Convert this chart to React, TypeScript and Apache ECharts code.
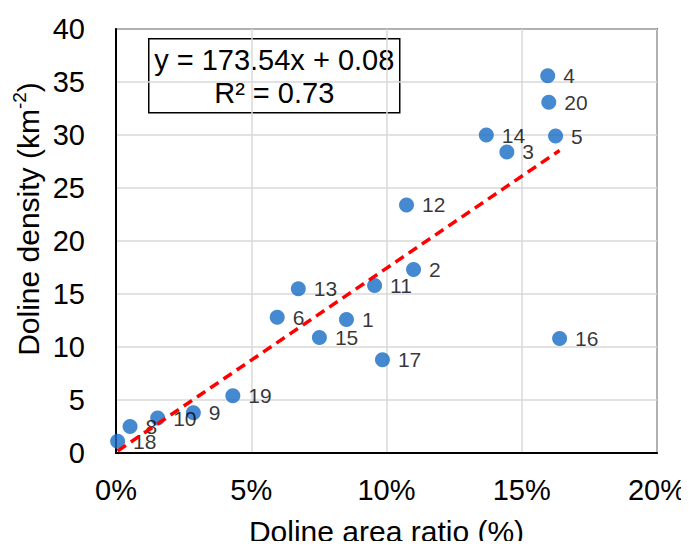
import React, { useEffect, useRef } from "react";
import * as echarts from "echarts";

const pointIds = ["1", "2", "3", "4", "5", "6", "8", "9", "10", "11", "12", "13", "14", "15", "16", "17", "18", "19", "20"];
const areaRatio = [0.0852, 0.110, 0.1445, 0.1596, 0.1625, 0.0596, 0.0052, 0.0286, 0.0154, 0.0956, 0.1074, 0.0674, 0.1369, 0.0752, 0.1640, 0.0985, 0.0006, 0.0432, 0.1600];
const dolineDensity = [12.6, 17.3, 28.4, 35.6, 29.9, 12.8, 2.5, 3.8, 3.3, 15.8, 23.4, 15.5, 30.0, 10.9, 10.8, 8.8, 1.1, 5.4, 33.1];
const xTicks = [0, 0.05, 0.1, 0.15, 0.2];
const yTicks = [0, 5, 10, 15, 20, 25, 30, 35, 40];
const trendSlope = 173.54;
const trendIntercept = 0.08;
const trendR2 = 0.73;

const FONT = "Liberation Sans, Arial, sans-serif";

export default function App() {
  const ref = useRef<HTMLDivElement>(null);
  useEffect(() => {
    if (!ref.current) return;
    const chart = echarts.init(ref.current, undefined, { renderer: "svg" });
    const pts = areaRatio.map((x, i) => [x, dolineDensity[i], pointIds[i]]);
    const xmin = Math.min(...areaRatio);
    const xmax = Math.max(...areaRatio);
    const trend = [
      [xmin, trendSlope * xmin + trendIntercept],
      [xmax, trendSlope * xmax + trendIntercept],
    ];
    chart.setOption({
      animation: false,
      textStyle: { fontFamily: FONT },
      grid: {
        left: 116,
        right: 32,
        top: 29,
        bottom: 96,
        show: true,
        borderColor: "#000",
        borderWidth: 1.5,
        backgroundColor: "transparent",
        containLabel: false,
        outerBoundsMode: "none",
      },
      xAxis: {
        type: "value",
        min: xTicks[0],
        max: xTicks[xTicks.length - 1],
        interval: 0.05,
        name: "Doline area ratio (%)",
        nameLocation: "middle",
        nameGap: 63,
        nameTextStyle: { fontSize: 30, color: "#000", fontFamily: FONT },
        axisLine: { show: true, lineStyle: { color: "#000", width: 2 } },
        axisTick: { show: false },
        splitLine: { show: true, lineStyle: { color: "#d9d9d9", width: 1.5 } },
        axisLabel: {
          fontSize: 29,
          color: "#000",
          margin: 22,
          fontFamily: FONT,
          formatter: (v: number) => Math.round(v * 100) + "%",
        },
      },
      yAxis: {
        type: "value",
        min: yTicks[0],
        max: yTicks[yTicks.length - 1],
        interval: 5,
        axisLine: { show: true, lineStyle: { color: "#000", width: 2 } },
        axisTick: { show: false },
        splitLine: { show: true, lineStyle: { color: "#d9d9d9", width: 1.5 } },
        axisLabel: { fontSize: 29, color: "#000", margin: 31, fontFamily: FONT },
      },
      series: [
        {
          type: "scatter",
          data: pts,
          symbolSize: 15,
          itemStyle: { color: "#176BC4" },
          label: {
            show: true,
            position: "right",
            distance: 8,
            fontSize: 21,
            color: "#000",
            fontFamily: FONT,
            formatter: (p: any) => p.data[2],
          },
          z: 2,
        },
        {
          type: "line",
          data: trend,
          symbol: "none",
          lineStyle: { color: "#FF0000", width: 3.5, type: [10, 6] },
          z: 3,
        },
      ],
      graphic: [
        {
          type: "group",
          left: 148,
          top: 38,
          children: [
            {
              type: "rect",
              shape: { x: 0, y: 0, width: 251, height: 74 },
              style: { fill: "#fff", stroke: "#000", lineWidth: 1.5 },
            },
            {
              type: "text",
              x: 125.5,
              y: 21,
              style: {
                text: `y = ${trendSlope.toFixed(2)}x + ${trendIntercept.toFixed(2)}`,
                fontSize: 29,
                fontFamily: FONT,
                fill: "#000",
                align: "center",
                verticalAlign: "middle",
              },
            },
            {
              type: "text",
              x: 125.5,
              y: 54,
              style: {
                text: `R² = ${trendR2.toFixed(2)}`,
                fontSize: 29,
                fontFamily: FONT,
                fill: "#000",
                align: "center",
                verticalAlign: "middle",
              },
            },
          ],
        },
        {
          type: "text",
          x: 28,
          y: 219,
          rotation: Math.PI / 2,
          style: {
            text: "{a|Doline density (km}{s|-2}{a|)}",
            align: "center",
            verticalAlign: "middle",
            fill: "#000",
            rich: {
              a: { fontSize: 30, fontFamily: FONT, fill: "#000", lineHeight: 36 },
              s: { fontSize: 19, fontFamily: FONT, fill: "#000", verticalAlign: "top", lineHeight: 36 },
            },
          },
        },
      ],
    });
    return () => chart.dispose();
  }, []);
  return <div ref={ref} style={{ width: 689, height: 549, margin: -8 }} />;
}
